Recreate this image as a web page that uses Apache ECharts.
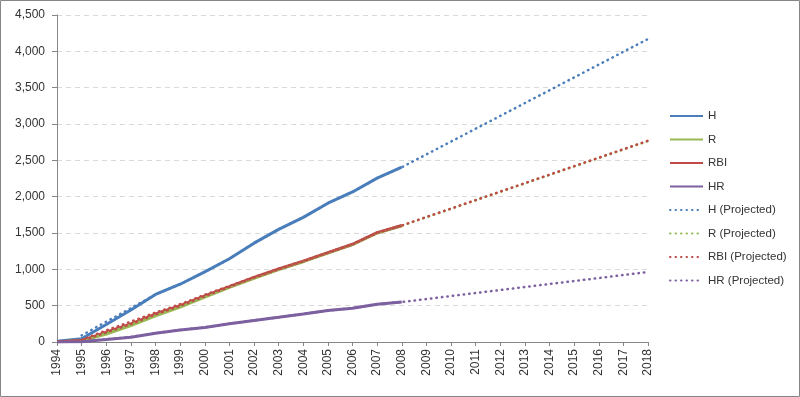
<!DOCTYPE html>
<html>
<head>
<meta charset="utf-8">
<script src="https://cdn.jsdelivr.net/npm/echarts@6/dist/echarts.min.js"></script>
<style>
  html, body { margin: 0; padding: 0; background: #fff; }
  #chart { width: 800px; height: 397px; }
</style>
</head>
<body>
<div id="chart"></div>
<script>
const years = [1994, 1995, 1996, 1997, 1998, 1999, 2000, 2001, 2002, 2003, 2004, 2005, 2006, 2007, 2008,
  2009, 2010, 2011, 2012, 2013, 2014, 2015, 2016, 2017, 2018]

// career totals, 1994 - 2008
const hits = [10, 45, 240, 440, 655, 795, 965, 1145, 1360, 1550, 1715, 1910, 2065, 2255, 2405]
const runs = [4, 18, 110, 225, 360, 480, 618, 752, 875, 995, 1105, 1225, 1340, 1500, 1600]
const rbi = [2, 20, 135, 250, 385, 500, 635, 762, 890, 1005, 1113, 1230, 1345, 1505, 1603]
const homeRuns = [0, 5, 33, 64, 120, 165, 200, 250, 297, 340, 385, 432, 465, 520, 550]

// projected totals, 1995 - 2018
const hitsProj = [null, 90, 280, 465, 655, 795, 965, 1145, 1360, 1550, 1715, 1910, 2065, 2255, 2405,
  2582, 2758, 2935, 3111, 3288, 3464, 3641, 3817, 3994, 4170]
const runsProj = [null, 20, 118, 235, 365, 485, 622, 755, 878, 998, 1108, 1228, 1342, 1500, 1600,
  1717, 1833, 1950, 2066, 2183, 2299, 2416, 2532, 2649, 2765]
const rbiProj = [null, 30, 160, 280, 405, 520, 650, 770, 892, 1008, 1115, 1232, 1347, 1505, 1603,
  1720, 1836, 1953, 2070, 2186, 2303, 2420, 2536, 2653, 2770]
const hrProj = [null, 8, 38, 70, 122, 166, 202, 251, 298, 341, 386, 433, 466, 521, 550,
  591, 633, 674, 715, 757, 798, 839, 880, 922, 963]

const yTicks = [0, 500, 1000, 1500, 2000, 2500, 3000, 3500, 4000, 4500]

const colors = {
  H: '#4a7ebb',
  R: '#98b954',
  RBI: '#be4b48',
  HR: '#7d60a0'
}

const pairs = (vals) => vals.map((v, i) => [years[i], v])

const solid = (name, vals) => ({
  name: name,
  type: 'line',
  data: pairs(vals),
  showSymbol: false,
  symbol: 'none',
  lineStyle: { color: colors[name], width: 3 },
  itemStyle: { color: colors[name] }
})

const dotted = (name, key, vals) => ({
  name: name,
  type: 'line',
  data: pairs(vals),
  showSymbol: false,
  symbol: 'none',
  connectNulls: false,
  lineStyle: { color: colors[key], width: 2.5, type: [0.5, 5], cap: 'round' },
  itemStyle: { color: colors[key] }
})

const chart = echarts.init(document.getElementById('chart'))
chart.setOption({
  animation: false,
  backgroundColor: '#fff',
  textStyle: { fontFamily: 'Liberation Sans, Arial, sans-serif' },
  graphic: [{
    type: 'rect',
    shape: { x: 0.5, y: 0.5, width: 799, height: 396 },
    style: { fill: 'none', stroke: '#868686', lineWidth: 1 },
    silent: true
  }],
  grid: { left: 57, right: 152, top: 15, bottom: 55 },
  legend: {
    orient: 'vertical',
    left: 669,
    top: 110,
    padding: 0,
    itemWidth: 33,
    itemHeight: 14,
    itemGap: 11.5,
    itemStyle: { opacity: 0 },
    textStyle: { fontSize: 11.5, color: '#333' },
    data: ['H', 'R', 'RBI', 'HR', 'H (Projected)', 'R (Projected)', 'RBI (Projected)', 'HR (Projected)']
  },
  xAxis: {
    type: 'value',
    min: years[0],
    max: years[years.length - 1],
    interval: 1,
    splitLine: { show: false },
    axisLine: { lineStyle: { color: '#868686' } },
    axisTick: { show: true, length: 4, lineStyle: { color: '#868686' } },
    axisLabel: {
      rotate: 90,
      margin: 7,
      fontSize: 12,
      color: '#333',
      formatter: (v) => String(v)
    }
  },
  yAxis: {
    type: 'value',
    min: yTicks[0],
    max: yTicks[yTicks.length - 1],
    interval: 500,
    axisLine: { show: true, lineStyle: { color: '#868686' } },
    axisTick: { show: true, length: 5, lineStyle: { color: '#868686' } },
    splitLine: { lineStyle: { color: '#d9d9d9', type: [5, 4] } },
    axisLabel: {
      margin: 12,
      fontSize: 12,
      color: '#333',
      formatter: (v) => v.toLocaleString('en-US')
    }
  },
  series: [
    solid('H', hits),
    solid('R', runs),
    solid('RBI', rbi),
    solid('HR', homeRuns),
    dotted('H (Projected)', 'H', hitsProj),
    dotted('R (Projected)', 'R', runsProj),
    dotted('RBI (Projected)', 'RBI', rbiProj),
    dotted('HR (Projected)', 'HR', hrProj)
  ]
})

window.onresize = function () {
  chart.resize()
}
</script>
</body>
</html>
